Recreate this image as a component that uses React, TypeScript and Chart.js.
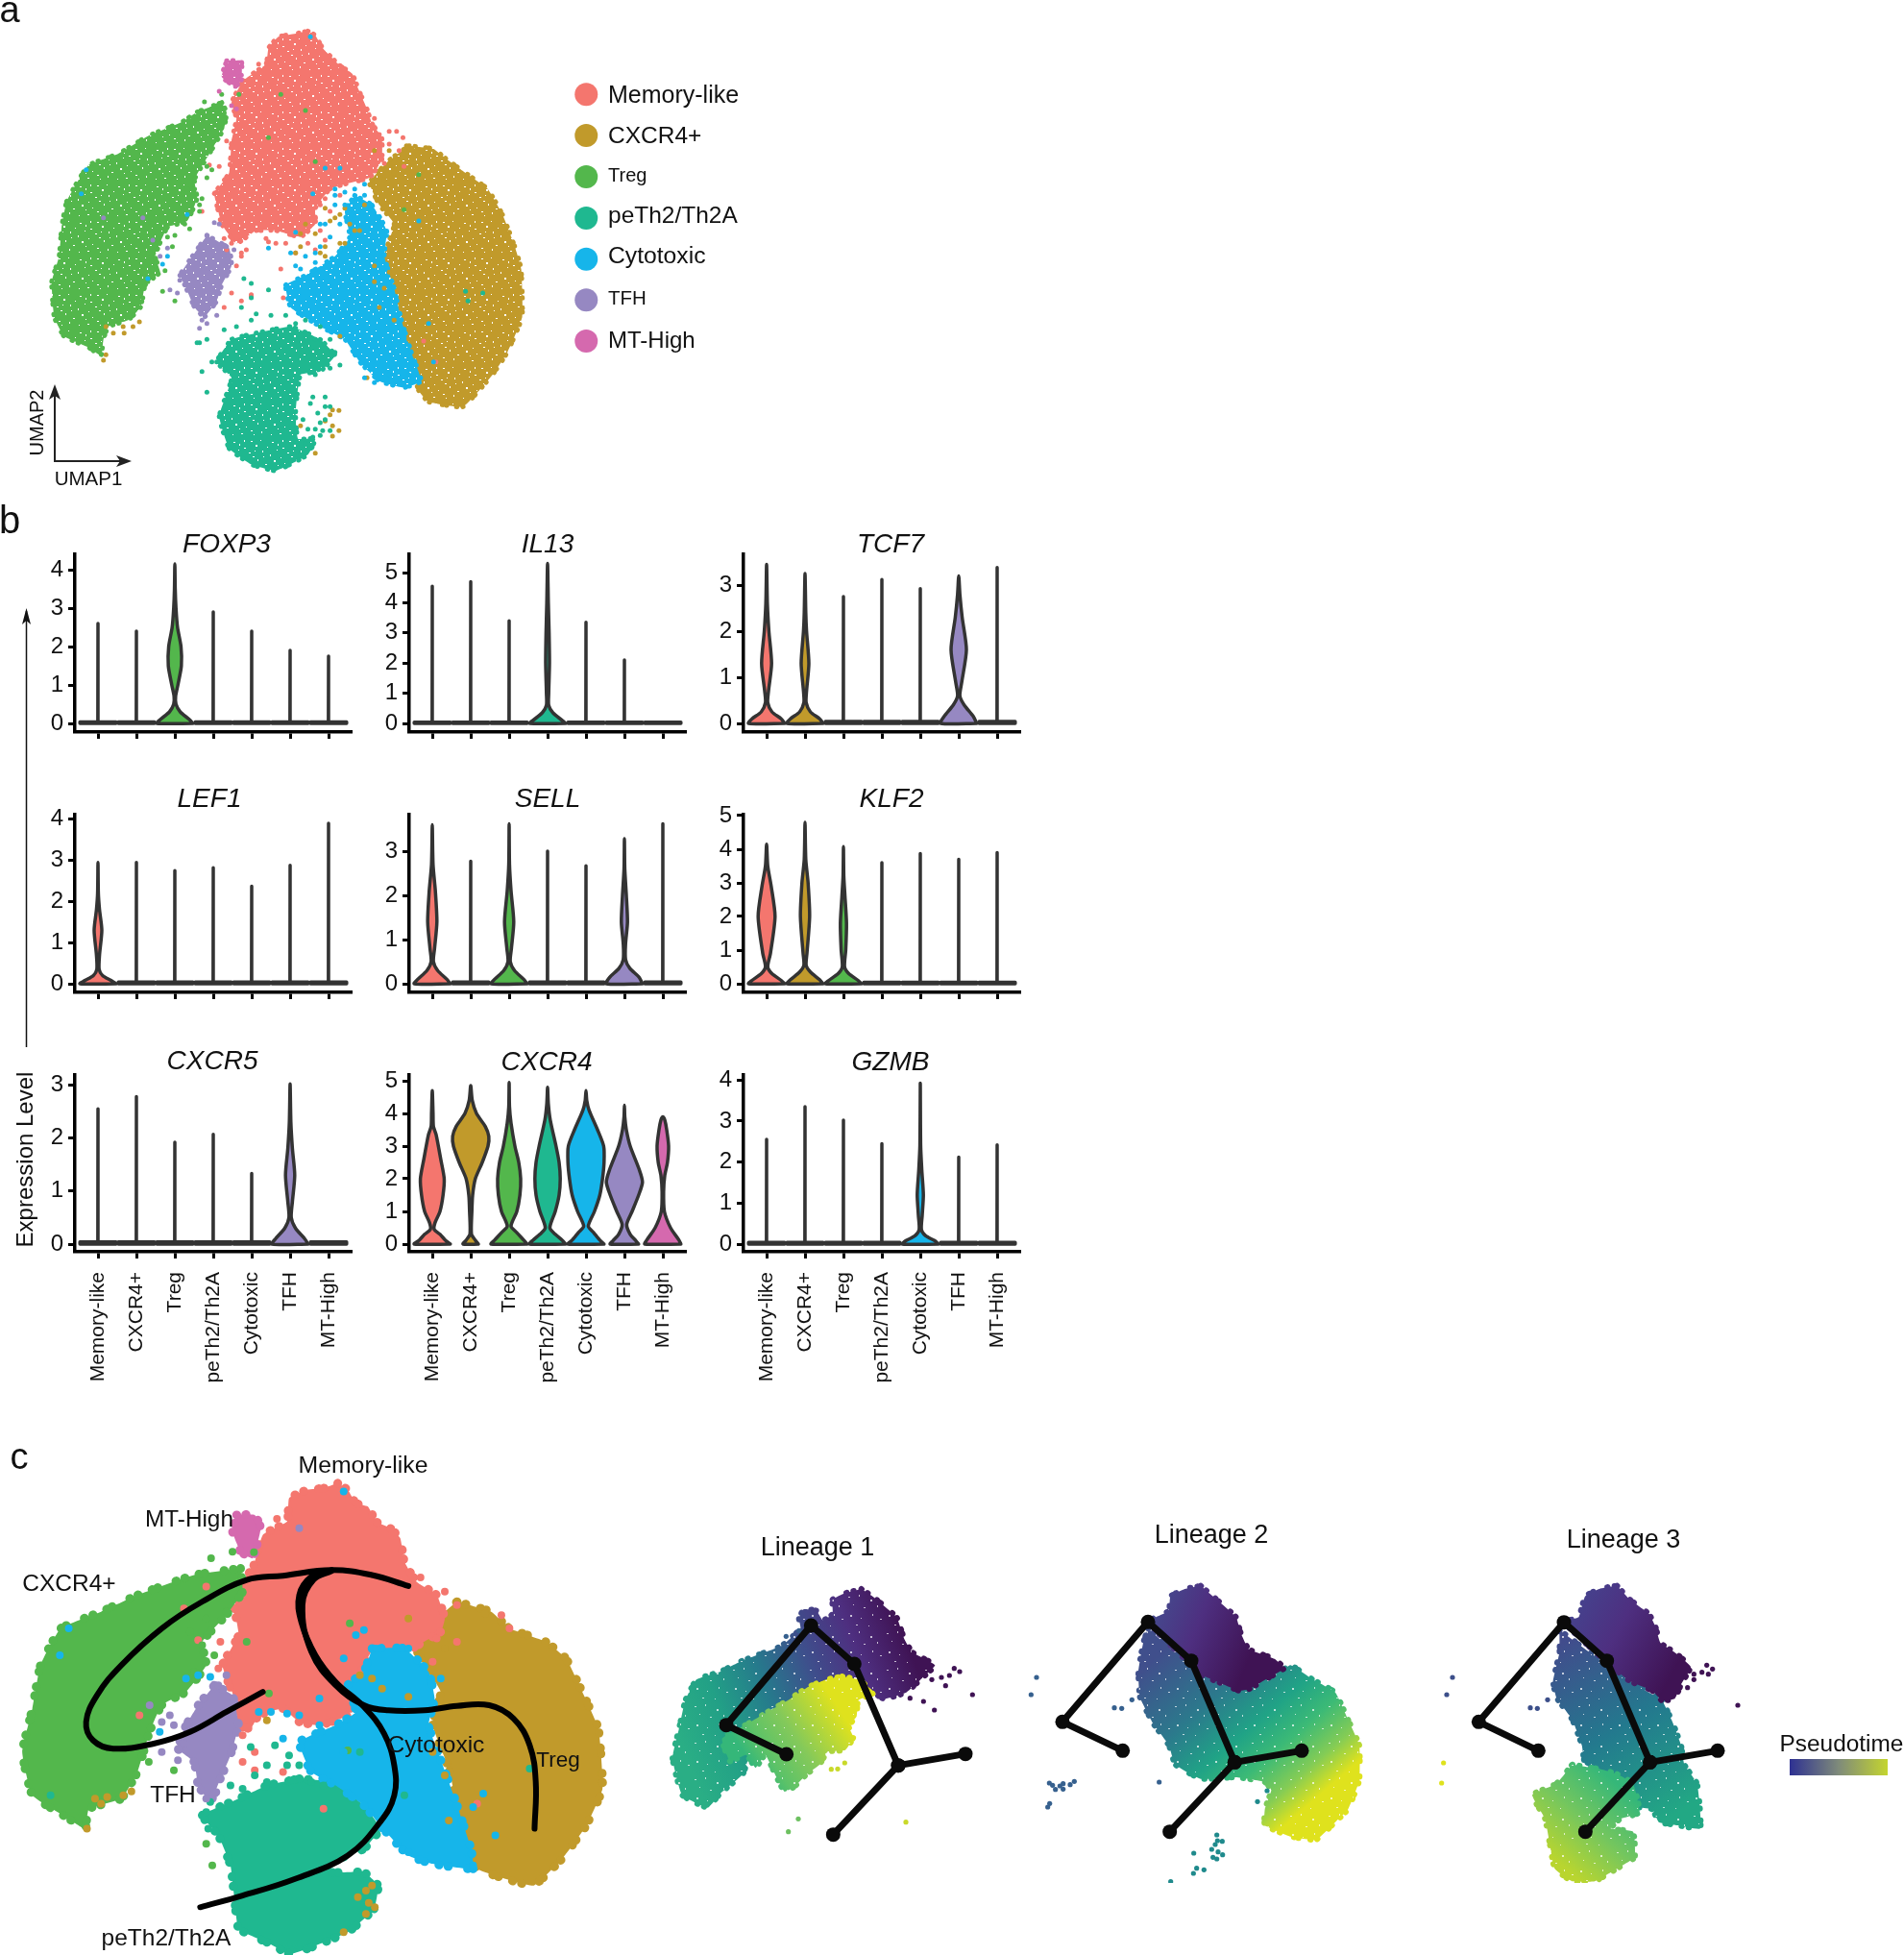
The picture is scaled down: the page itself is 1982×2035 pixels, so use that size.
import React, { useEffect, useRef } from "react";
import Chart from "chart.js/auto";

type P = [number, number];
const FONT = "'Liberation Sans', Arial, sans-serif";

// ---------- categories ----------
const categories = ["Memory-like", "CXCR4+", "Treg", "peTh2/Th2A", "Cytotoxic", "TFH", "MT-High"];
const colors = ["#F4766E", "#C19A2B", "#53B74C", "#1FB890", "#16B5EA", "#9688C2", "#D569AE"];

// ---------- panel a: UMAP cluster outlines and stray cells ----------
const memoryOutline: P[] = [[625,97],[640,110],[655,150],[690,205],[715,230],[728,280],[745,340],[755,385],[775,430],[775,500],[750,555],[700,575],[670,590],[640,650],[640,700],[610,740],[560,720],[520,720],[480,760],[450,700],[440,640],[435,605],[465,540],[470,440],[480,370],[470,320],[495,250],[540,200],[545,150],[565,115],[600,105]];
const goldOutline: P[] = [[830,455],[880,465],[905,495],[945,540],[990,590],[1020,670],[1045,770],[1058,840],[1060,990],[1030,1100],[1000,1170],[940,1270],[870,1255],[850,1220],[830,1120],[820,1020],[800,900],[780,800],[800,700],[770,640],[750,570],[790,500]];
const tregOutline: P[] = [[450,320],[460,350],[455,400],[425,480],[395,560],[400,620],[380,690],[340,710],[315,800],[325,850],[295,890],[285,960],[260,1000],[220,1020],[210,1060],[205,1110],[180,1085],[130,1050],[110,990],[105,880],[120,800],[125,710],[135,630],[160,560],[180,515],[240,480],[300,425],[370,380],[400,350]];
const tealOutline: P[] = [[520,1040],[590,1020],[650,1060],[680,1110],[650,1160],[610,1170],[600,1290],[605,1370],[640,1370],[625,1420],[560,1470],[510,1450],[465,1400],[445,1300],[470,1180],[440,1130],[470,1060]];
const blueOutline: P[] = [[720,610],[755,640],[785,720],[780,800],[800,900],[815,1000],[835,1100],[855,1190],[820,1210],[770,1190],[730,1130],[700,1060],[650,1020],[590,960],[580,890],[620,860],[680,800],[710,740],[700,660]];
const tfhOutline: P[] = [[420,735],[465,775],[470,830],[450,890],[440,940],[415,990],[395,960],[375,890],[365,860],[395,790]];
const mtOutline: P[] = [[460,190],[490,190],[490,250],[478,270],[450,240]];

const memoryStray: P[] = [[790,410],[805,410],[818,430],[460,440],[445,520],[425,515],[440,600],[410,660],[460,780],[490,790],[490,940],[470,915],[510,920],[560,760],[530,720],[545,755],[600,790],[640,680],[570,840],[575,930],[455,960],[510,925],[860,1065],[885,1130],[770,420],[760,370],[690,205],[525,200],[490,800],[480,830],[650,720],[625,760],[640,780],[660,750],[500,780],[470,760],[540,745],[580,760],[455,745],[770,480],[730,540],[790,450],[810,470],[820,520],[780,510],[660,620],[670,660],[690,610],[620,720],[650,640]];
const goldStray: P[] = [[210,1125],[215,1108],[283,1005],[270,1020],[252,1040],[230,1040],[215,1020],[250,1020],[675,1280],[688,1282],[670,1295],[660,1315],[675,1330],[688,1345],[675,1362],[610,1330],[640,1415],[690,670],[660,650],[680,680],[650,790],[610,770],[600,790],[780,900],[790,850],[800,1000],[760,830],[690,1050],[745,1180],[830,1060],[825,455],[870,462],[780,560],[770,600],[720,720],[700,760],[660,800],[760,470],[790,470],[810,500],[775,530],[800,540],[740,640],[700,650],[670,690],[710,700],[730,720],[690,760],[640,730],[620,700],[660,770],[610,730],[760,880],[770,960]];
const blueStray: P[] = [[175,530],[165,605],[630,115],[660,525],[690,525],[545,775],[600,725],[635,605],[380,670],[340,800],[330,825],[300,870],[740,1180],[760,1195],[810,1200],[870,1010],[880,1130],[850,690],[680,590],[700,600],[740,575],[680,640],[690,700],[650,770],[600,830],[640,820],[590,790],[760,1140],[800,1150],[790,1170],[830,1170],[600,900],[700,640],[720,590],[680,610],[710,680],[740,610],[660,700],[650,700],[670,740],[700,780],[640,790],[620,800],[610,840]];
const tregStray: P[] = [[415,318],[430,340],[450,295],[485,295],[440,330],[405,640],[405,660],[385,715],[355,735],[350,770],[335,845],[330,910],[355,940],[410,620],[380,590],[420,555],[430,530],[850,545],[820,655],[570,295],[620,345],[640,505],[545,430],[435,440],[450,400],[415,480],[420,520],[395,590],[370,680],[375,700],[340,740],[315,830],[300,880],[290,930]];
const tealStray: P[] = [[495,870],[510,885],[545,905],[510,930],[490,960],[520,980],[455,1030],[410,1160],[420,1225],[405,1070],[440,1130],[600,1010],[640,1060],[690,1140],[680,1100],[670,1150],[950,940],[945,910],[980,915],[635,1240],[660,1240],[630,1260],[670,1270],[645,1290],[660,1310],[640,1340],[655,1345],[620,1385],[635,1365],[650,1360],[670,1345],[610,1420],[590,1440],[630,1400],[430,1130],[420,1060],[400,1070],[480,1020],[510,1000],[550,985],[580,985],[620,1000],[650,1020],[670,1060],[640,1170],[660,1270],[650,1320],[625,1340],[615,1310]];
const tfhStray: P[] = [[435,695],[445,700],[325,800],[340,775],[345,905],[365,875],[360,915],[410,1000],[405,1025],[420,1010],[440,985],[455,800],[210,680],[290,680],[310,750],[475,780],[460,770],[420,735],[375,850]];
const mtStray: P[] = [[480,340],[470,330],[445,285],[490,235],[478,270]];

// ---------- panel c: the same cells, redrawn larger, with principal curves ----------
const memoryC: P[] = [[835,155],[860,175],[880,215],[910,225],[930,270],[965,290],[990,320],[1000,390],[1030,450],[1080,490],[1100,560],[1090,600],[1020,650],[985,690],[930,640],[900,700],[880,760],[860,850],[790,880],[740,870],[700,830],[640,850],[620,890],[590,880],[580,800],[550,700],[590,610],[580,530],[590,460],[625,410],[650,310],[710,270],[715,200],[760,175],[800,170]];
const goldC: P[] = [[1130,510],[1215,540],[1260,590],[1350,630],[1400,680],[1440,780],[1480,890],[1490,1070],[1450,1180],[1390,1280],[1320,1360],[1250,1340],[1180,1310],[1160,1250],[1135,1150],[1110,1010],[1070,880],[1090,780],[1050,700],[1025,640],[1060,580]];
const blueC: P[] = [[920,650],[1000,650],[1060,720],[1075,800],[1060,880],[1095,1000],[1125,1100],[1165,1250],[1170,1310],[1070,1295],[1010,1270],[940,1180],[900,1120],[830,1060],[770,1020],[740,930],[830,880],[880,840],[860,760],[900,720]];
const tealC: P[] = [[740,1040],[820,1050],[900,1120],[940,1190],[900,1250],[820,1290],[820,1320],[900,1320],[935,1360],[925,1430],[860,1500],[720,1565],[660,1530],[590,1490],[580,1400],[570,1300],[540,1210],[500,1150],[590,1100],[660,1060]];
const tregC: P[] = [[595,410],[600,480],[560,550],[500,630],[510,700],[460,780],[400,820],[370,900],[340,1020],[300,1100],[220,1130],[210,1190],[170,1160],[80,1090],[55,960],[80,830],[100,700],[150,590],[250,540],[340,490],[480,430]];
const tfhC: P[] = [[530,760],[575,790],[590,880],[570,970],[545,1040],[520,1110],[490,1060],[480,990],[440,950],[460,880],[490,820]];
const mtC: P[] = [[585,250],[630,250],[645,290],[625,380],[595,360],[575,300]];

const tregStrayC: P[] = [[522,380],[575,360],[628,362],[510,560],[470,600],[610,630],[865,575],[560,540],[500,640],[530,670],[480,720],[430,1015],[368,990],[665,785],[525,1300],[510,1235],[860,955]];
const goldStrayC: P[] = [[215,1190],[235,1100],[265,1095],[305,1090],[325,1078],[250,1115],[920,1360],[905,1375],[885,1395],[912,1412],[927,1425],[905,1445],[660,865],[1010,560],[920,740],[945,770],[890,730],[1010,795],[1070,960],[1100,1030],[1110,1165],[1100,650],[1150,520],[1200,545],[850,1500]];
const blueStrayC: P[] = [[170,590],[148,670],[850,180],[880,610],[900,595],[850,680],[790,800],[710,845],[740,850],[790,880],[850,960],[640,840],[670,840],[700,920],[930,650],[1010,650],[1090,740],[1195,1085],[1225,1210],[1170,1125],[395,900],[460,740],[490,730],[520,735],[1010,1260],[1170,1300]];
const memoryStrayC: P[] = [[685,262],[1040,437],[1100,480],[1130,520],[1240,550],[1260,590],[1070,690],[1130,630],[1180,1115],[345,850],[510,465],[600,910],[630,960],[600,990],[630,1015],[700,1020],[800,1130],[540,710],[545,630],[490,625],[455,530],[1080,620]];
const tealStrayC: P[] = [[620,945],[680,940],[660,1000],[715,970],[710,1000],[740,1000],[630,1030],[660,1050],[600,1070],[570,1060],[520,1110],[510,1140],[515,1190],[890,960],[125,1090],[1000,1090],[1310,1010],[770,1050],[800,1060]];
const tfhStrayC: P[] = [[740,290],[370,820],[420,850],[400,870],[430,880],[560,730],[540,760],[400,960],[440,985],[455,935],[510,1100],[535,1080]];

const curveOne: P[] = [[650,780],[560,840],[470,900],[380,935],[280,950],[230,925],[213,870],[240,790],[300,700],[400,590],[500,510],[610,445],[700,432],[820,415],[920,430],[1010,463]];
const curveTwo: P[] = [[820,415],[770,435],[740,490],[745,570],[780,670],[830,750],[900,825],[950,905],[975,1000],[975,1090],[940,1170],[860,1270],[730,1340],[600,1390],[495,1425]];
const curveThree: P[] = [[820,418],[775,445],[748,520],[770,660],[830,760],[900,820],[960,835],[1050,835],[1130,822],[1210,820],[1270,860],[1310,940],[1325,1050],[1322,1190]];

// ---------- violin values ----------
const FOXP3_top = [2.6, 2.4, 4.15, 2.9, 2.4, 1.9, 1.75];
const IL13_top = [4.55, 4.7, 3.4, 5.3, 3.35, 2.1, 0];
const TCF7_top = [3.45, 3.25, 2.75, 3.12, 2.92, 3.2, 3.38];
const LEF1_top = [2.95, 2.95, 2.75, 2.82, 2.37, 2.88, 3.9];
const SELL_top = [3.6, 2.77, 3.62, 3.0, 2.67, 3.28, 3.62];
const KLF2_top = [4.15, 4.8, 4.08, 3.6, 3.87, 3.7, 3.9];
const CXCR5_top = [2.55, 2.78, 1.92, 2.07, 1.33, 3.02, 0];
const CXCR4_top = [4.7, 4.85, 4.95, 4.8, 4.7, 4.25, 3.9];
const GZMB_top = [2.55, 3.35, 3.02, 2.45, 3.92, 2.12, 2.42];

// each profile: [expression, half width in category units]
const FOXP3_treg: P[] = [[0,.47],[.1,.38],[.3,.14],[.5,.03],[.7,.02],[1,.08],[1.5,.17],[2,.16],[2.5,.07],[3,.03],[3.5,.01]];
const IL13_teth: P[] = [[0,.47],[.1,.38],[.35,.14],[.6,.03],[1,.03],[2,.05],[3,.04],[4,.02]];
const TCF7_mem: P[] = [[0,.47],[.1,.38],[.25,.14],[.45,.03],[.7,.05],[1.3,.13],[2,.06],[2.6,.02]];
const TCF7_cx: P[] = [[0,.47],[.1,.38],[.25,.14],[.45,.03],[.7,.04],[1.3,.1],[2,.04],[2.4,.02]];
const TCF7_tfh: P[] = [[0,.47],[.15,.38],[.4,.14],[.6,.03],[.9,.08],[1.6,.2],[2.3,.09],[2.8,.03]];
const LEF1_mem: P[] = [[0,.47],[.08,.34],[.2,.12],[.35,.03],[.7,.04],[1.3,.1],[1.8,.04],[2.2,.01]];
const SELL_mem: P[] = [[0,.47],[.1,.38],[.3,.14],[.5,.03],[.8,.06],[1.4,.12],[2.1,.08],[2.7,.02]];
const SELL_treg: P[] = [[0,.47],[.1,.38],[.3,.14],[.5,.03],[.8,.06],[1.4,.12],[2.1,.05],[2.7,.01]];
const SELL_tfh: P[] = [[0,.47],[.15,.38],[.35,.14],[.55,.03],[.9,.03],[1.4,.08],[2,.05],[2.6,.01]];
const KLF2_mem: P[] = [[0,.47],[.1,.38],[.3,.14],[.5,.03],[.9,.1],[2,.22],[2.9,.12],[3.5,.03]];
const KLF2_cx: P[] = [[0,.47],[.12,.38],[.35,.14],[.55,.03],[.9,.05],[2,.12],[3,.08],[3.7,.02]];
const KLF2_treg: P[] = [[0,.47],[.1,.38],[.3,.14],[.5,.03],[1,.06],[1.8,.08],[2.6,.04],[3.2,.01]];
const CXCR5_tfh: P[] = [[0,.47],[.1,.38],[.3,.14],[.5,.03],[.8,.06],[1.3,.12],[1.8,.06],[2.3,.02]];
const GZMB_cyto: P[] = [[0,.47],[.08,.38],[.2,.14],[.35,.03],[.7,.05],[1.2,.08],[1.8,.04],[2.4,.01]];
const CXCR4_mem: P[] = [[0,.47],[.12,.34],[.3,.2],[.45,.05],[.65,.07],[1,.2],[1.5,.28],[2,.31],[2.6,.22],[3.35,.1],[3.6,.03],[4,.02]];
const CXCR4_cx: P[] = [[0,.2],[.12,.12],[.3,.02],[1,.03],[1.5,.05],[2,.12],[2.5,.3],[3,.45],[3.3,.47],[3.6,.38],[4,.15],[4.4,.04]];
const CXCR4_treg: P[] = [[0,.47],[.12,.38],[.35,.2],[.55,.05],[1,.2],[1.5,.28],[2,.3],[2.5,.25],[3,.15],[3.7,.05],[4.2,.01]];
const CXCR4_th2: P[] = [[0,.47],[.12,.38],[.3,.2],[.5,.06],[1,.2],[1.5,.3],[2,.33],[2.5,.3],[3,.22],[3.8,.07],[4.3,.02]];
const CXCR4_cyto: P[] = [[0,.47],[.12,.36],[.35,.2],[.55,.06],[1,.22],[1.5,.36],[2,.43],[2.5,.47],[3,.46],[3.5,.3],[4.1,.08],[4.4,.02]];
const CXCR4_tfh: P[] = [[0,.37],[.1,.3],[.3,.15],[.6,.06],[1,.2],[1.5,.37],[1.9,.47],[2.3,.38],[3,.15],[3.5,.05],[3.9,.01]];
const CXCR4_mt: P[] = [[0,.47],[.12,.42],[.5,.2],[1,.04],[1.6,.02],[2.1,.05],[2.5,.12],[3,.15],[3.5,.1],[3.8,.05]];

// ---------- lineage panels ----------
const viridisA = ["#3F1354", "#4E2F80", "#3E4F8C", "#267A8C", "#22A086", "#2AAE85"];
const L1_upper: P[] = [[650,102],[685,125],[715,150],[760,190],[785,260],[810,300],[880,340],[840,380],[790,425],[720,445],[680,420],[640,380],[560,380],[500,410],[440,445],[380,470],[330,510],[300,560],[300,620],[280,680],[210,740],[170,785],[90,745],[60,630],[80,540],[100,450],[135,385],[210,360],[280,325],[400,280],[460,225],[455,195],[470,165],[510,170],[530,200],[560,180],[560,135],[600,115]];
const L1_lower: P[] = [[590,375],[640,385],[690,425],[640,450],[635,500],[610,530],[625,565],[600,605],[545,610],[520,650],[480,680],[440,720],[410,735],[385,690],[350,620],[320,660],[290,620],[240,640],[215,570],[300,520],[350,490],[420,450],[480,410],[540,385]];
const L2_upper: P[] = [[570,92],[620,135],[680,190],[695,240],[720,290],[800,320],[830,350],[780,380],[720,415],[690,420],[630,395],[570,370],[540,340],[405,205],[470,170],[475,125],[520,102]];
const L2_lower: P[] = [[405,225],[540,345],[620,395],[700,420],[800,375],[850,340],[920,385],[990,425],[1030,510],[1065,590],[1065,700],[1030,790],[990,830],[930,885],[850,875],[770,840],[770,790],[790,730],[770,705],[680,690],[570,695],[490,650],[470,590],[420,520],[380,440],[375,360],[390,270]];
const L3_upper: P[] = [[610,92],[650,135],[710,180],[730,220],[745,270],[790,300],[840,345],[810,400],[790,445],[750,450],[720,420],[650,390],[600,350],[570,325],[444,206],[490,190],[510,125],[560,100]];
const L3_middle: P[] = [[430,230],[578,340],[620,370],[700,420],[750,450],[780,510],[810,590],[820,650],[860,710],[870,850],[800,840],[740,830],[720,790],[660,780],[600,690],[560,670],[510,650],[500,590],[470,510],[420,440],[410,390],[430,300]];
const L3_lower: P[] = [[470,650],[560,665],[610,680],[660,710],[680,800],[620,820],[590,850],[660,860],[665,940],[610,975],[540,1015],[470,1015],[415,975],[400,900],[385,820],[345,745],[420,710]];

const L1_tree_a: P[] = [[416,618],[228,527],[493,216],[628,336],[765,653],[975,617]];
const L1_tree_b: P[] = [[765,653],[562,869]];
const L2_tree_a: P[] = [[326,607],[138,517],[405,205],[540,326],[676,643],[885,607]];
const L2_tree_b: P[] = [[676,643],[473,860]];
const L3_tree_a: P[] = [[364,607],[178,517],[444,206],[578,326],[713,643],[924,607]];
const L3_tree_b: P[] = [[713,643],[511,860]];

const L1_dark: P[] = [[940,350],[957,360],[925,372],[900,378],[870,385],[913,404],[802,443],[844,453],[878,480],[997,432]];
const L1_green: P[] = [[453,820],[422,860]];
const L1_yellow: P[] = [[789,830],[598,645],[576,664],[556,665]];
const L1_blue: P[] = [[415,250],[455,232]];
const L2_blue: P[] = [[57,378],[40,432],[355,448],[300,473],[323,475],[97,708],[107,715],[116,728],[140,727],[130,717],[140,710],[162,713],[175,703],[98,772],[92,783],[440,705]];
const L2_teal: P[] = [[620,870],[622,888],[637,890],[615,900],[604,915],[624,923],[548,927],[638,932],[608,940],[620,945],[557,974],[580,979],[547,990],[476,1016],[747,766],[777,732]];
const L3_blue: P[] = [[96,378],[78,432],[393,448],[339,473],[361,475]];
const L3_yellow: P[] = [[68,645],[62,708]];
const L3_dark: P[] = [[987,465],[890,340],[908,352],[875,362],[850,368],[825,373],[850,385],[830,410],[895,368]];

// gaps in the cell clouds: the white flecks in one repeating tile [x, y, w, h]
const fleckTile: [number, number, number, number][] = [[3,4,2,1],[14,2,1,2],[26,7,2,2],[8,12,1,1],[19,15,2,1],[33,13,1,2],[5,23,2,2],[16,26,1,1],[28,22,1,2],[36,27,2,1],[11,33,2,1],[24,34,1,1]];
const denseFlecks: [number, number, number, number][] = [[9,6,1,2],[21,3,2,1],[31,2,1,1],[14,10,2,1],[25,13,1,1],[38,9,1,1],[1,17,1,2],[12,20,1,1],[23,19,2,1],[34,19,1,1],[9,28,1,1],[21,30,2,1],[32,31,1,2],[2,34,1,1]];

// ---------- helpers ----------
const pts = (a: P[]) => a.map(([x, y]) => ({ x, y }));
function fleckPattern(color: string | null) {
  const c = document.createElement("canvas");
  c.width = 40; c.height = 38;
  const g = c.getContext("2d") as CanvasRenderingContext2D;
  if (color) { g.fillStyle = color; g.fillRect(0, 0, 40, 38); }
  g.fillStyle = color ? "#fff" : "rgba(255,255,255,0.7)";
  (color ? [...fleckTile, ...denseFlecks] : fleckTile).forEach(([x, y, w, h]) => g.fillRect(x, y, w, h));
  return g.createPattern(c, "repeat");
}
const poly = (a: P[], fillColor: any, edge: any, width: number, gap: number) => ({
  data: pts([...a, a[0]]), showLine: true, fill: "shape", backgroundColor: fillColor, borderColor: edge,
  borderWidth: width, borderDash: [0.5, gap, 0.5, gap * 1.7, 0.5, gap * 0.6, 0.5, gap * 2.2], borderCapStyle: "round",
  pointRadius: 0, tension: 0.12, borderJoinStyle: "round",
});
const flecks = (a: P[]) => ({
  data: pts([...a, a[0]]), showLine: true, fill: "shape", backgroundColor: fleckPattern(null), borderWidth: 0, borderColor: "rgba(0,0,0,0)",
  pointRadius: 0, tension: 0.12,
});
const dots = (a: P[], color: string, r: number) => ({
  data: pts(a), showLine: false, pointRadius: r, pointBackgroundColor: color, pointBorderWidth: 0,
});
const gradient = (x0: number, y0: number, x1: number, y1: number, stops: [number, string][]) => (ctx: any) => {
  const chart = ctx.chart;
  if (!chart.chartArea) return stops[0][1];
  const sx = chart.scales.x, sy = chart.scales.y;
  const g = chart.ctx.createLinearGradient(sx.getPixelForValue(x0), sy.getPixelForValue(y0), sx.getPixelForValue(x1), sy.getPixelForValue(y1));
  stops.forEach(([t, c]) => g.addColorStop(t, c));
  return g;
};
const basePlugins = { legend: { display: false }, tooltip: { enabled: false } };
const noPad = { autoPadding: false, padding: 0 };
const hidden = (min: number, max: number, reverse = false) => ({ type: "linear", display: false, min, max, reverse });

const legendDots: P[] = [[1190,295],[1190,423],[1190,552],[1190,681],[1190,809],[1190,937],[1190,1065]];
const clusterA = (a: P[], i: number) => poly(a, fleckPattern(colors[i]), colors[i], 5, 6);

function makePanelA() {
  return {
    type: "scatter",
    data: { datasets: [
      { data: pts(legendDots), showLine: false, pointRadius: 12, pointBackgroundColor: colors, pointBorderWidth: 0 },
      dots(mtStray, colors[6], 2.5), dots(tfhStray, colors[5], 2.5), dots(blueStray, colors[4], 2.5),
      dots(tealStray, colors[3], 2.5), dots(tregStray, colors[2], 2.5), dots(goldStray, colors[1], 2.5),
      dots(memoryStray, colors[0], 2.5),
      clusterA(mtOutline, 6), clusterA(tfhOutline, 5), clusterA(blueOutline, 4), clusterA(tealOutline, 3),
      clusterA(tregOutline, 2), clusterA(memoryOutline, 0), clusterA(goldOutline, 1),
    ] },
    options: { animation: false, responsive: false, layout: noPad, plugins: basePlugins, scales: { x: hidden(0, 1560), y: hidden(0, 1560, true) } },
  };
}

const curveSet = (a: P[]) => ({
  data: pts(a), showLine: true, borderColor: "#000", borderWidth: 6, pointRadius: 0, tension: 0.4, fill: false, borderCapStyle: "round",
});
const clusterC = (a: P[], i: number) => poly(a, colors[i], colors[i], 9, 9);
function makePanelC() {
  return {
    type: "scatter",
    data: { datasets: [
      curveSet(curveOne), curveSet(curveTwo), curveSet(curveThree),
      dots(tfhStrayC, colors[5], 4), dots(blueStrayC, colors[4], 4), dots(tealStrayC, colors[3], 4),
      dots(tregStrayC, colors[2], 4), dots(goldStrayC, colors[1], 4), dots(memoryStrayC, colors[0], 4),
      clusterC(mtC, 6), clusterC(tfhC, 5), clusterC(blueC, 4), clusterC(tealC, 3), clusterC(tregC, 2), clusterC(memoryC, 0), clusterC(goldC, 1),
    ] },
    options: { animation: false, responsive: false, layout: noPad, plugins: basePlugins, scales: { x: hidden(0, 1568), y: hidden(0, 1568, true) } },
  };
}

const tree = (a: P[]) => ({
  data: pts(a), showLine: true, borderColor: "#0A0A0A", borderWidth: 7, pointRadius: 7.5,
  pointBackgroundColor: "#0A0A0A", pointBorderWidth: 0, tension: 0, fill: false,
});
const lineageOptions = { animation: false, responsive: false, layout: noPad, plugins: basePlugins, scales: { x: hidden(0, 1140), y: hidden(0, 1020, true) } };
const darkStops = (): [number, string][] => viridisA.map((c, i) => [i / (viridisA.length - 1), c]);
const graded = (a: P[], g: any) => poly(a, g, g, 6, 7);
function makeLineage1() {
  return { type: "scatter", options: lineageOptions, data: { datasets: [
    tree(L1_tree_a), tree(L1_tree_b),
    dots(L1_dark, "#3F1354", 2.6), dots(L1_green, "#6DC060", 2.6), dots(L1_yellow, "#C9D92A", 2.6), dots(L1_blue, "#36608E", 2.6),
    flecks(L1_lower),
    graded(L1_lower, gradient(640, 420, 300, 640, [[0, "#DFE21D"], [.2, "#DFE21D"], [.6, "#84C95A"], [.85, "#5CC268"], [1, "#35B779"]])),
    flecks(L1_upper),
    graded(L1_upper, gradient(820, 340, 100, 620, darkStops())),
  ] } };
}
function makeLineage2() {
  return { type: "scatter", options: lineageOptions, data: { datasets: [
    tree(L2_tree_a), tree(L2_tree_b),
    dots(L2_blue, "#36608E", 2.6), dots(L2_teal, "#1F8A8C", 2.6),
    graded(L2_upper, gradient(720, 320, 430, 200, [[0, "#3F1354"], [.6, "#4E2F80"], [1, "#46468C"]])),
    flecks(L2_lower),
    graded(L2_lower, gradient(450, 300, 920, 840, [[0, "#404F8C"], [.3, "#2B7A8C"], [.5, "#20A386"], [.65, "#3CBA76"], [.8, "#84CC55"], [.92, "#DFE21D"], [1, "#DFE21D"]])),
  ] } };
}
function makeLineage3() {
  return { type: "scatter", options: lineageOptions, data: { datasets: [
    tree(L3_tree_a), tree(L3_tree_b),
    dots(L3_blue, "#3C4F8A", 2.6), dots(L3_yellow, "#DFE21D", 2.6), dots(L3_dark, "#3F1354", 2.6),
    graded(L3_upper, gradient(780, 370, 470, 200, [[0, "#3F1354"], [.6, "#4E2F80"], [1, "#46408C"]])),
    flecks(L3_lower),
    graded(L3_lower, gradient(620, 720, 420, 950, [[0, "#35B779"], [.5, "#74C65E"], [1, "#B9D52F"]])),
    flecks(L3_middle),
    graded(L3_middle, gradient(470, 250, 800, 800, [[0, "#414C8C"], [.5, "#23798E"], [1, "#22A884"]])),
  ] } };
}

// ---------- violins ----------
function violinOutline(center: number, top: number, profile?: P[]) {
  const prof: P[] = profile ?? [[0, .47], [.04, .47], [.04, .004]];
  const right = prof.map(([y, w]) => ({ x: center + w, y }));
  const left = [...prof].reverse().map(([y, w]) => ({ x: center - w, y }));
  const peak = top > 0 ? [{ x: center, y: top }] : [];
  return [...right, ...peak, ...left, right[0]];
}
const zeroPad = (ax: any) => { ax.paddingTop = 0; ax.paddingBottom = 0; ax.paddingLeft = 0; ax.paddingRight = 0; };
function violinChart(tops: number[], profiles: Record<number, P[]>, ticks: number[], yMin: number, yMax: number, withLabels: boolean, axisH: number) {
  return {
    type: "scatter",
    data: { datasets: tops.map((top, i) => ({
      data: violinOutline(i + 1, top, profiles[i]), showLine: true, fill: "shape", backgroundColor: colors[i],
      borderColor: "#333333", borderWidth: 3.5, pointRadius: 0, tension: profiles[i] ? 0.25 : 0,
      borderJoinStyle: "round", borderCapStyle: "round", clip: false,
    })) },
    options: {
      animation: false, responsive: false, plugins: basePlugins,
      layout: { autoPadding: false, padding: { top: 15, right: 10, left: 0, bottom: 0 } },
      scales: {
        x: {
          type: "linear", min: 0.4, max: 7.6,
          afterBuildTicks: (ax: any) => { ax.ticks = categories.map((_, i) => ({ value: i + 1 })); },
          afterFit: (ax: any) => { ax.height = axisH; zeroPad(ax); },
          grid: { drawOnChartArea: false, drawTicks: true, tickLength: 7, tickWidth: 3, tickColor: "#000" },
          border: { display: true, color: "#000", width: 3.5 },
          ticks: {
            autoSkip: false, maxRotation: 90, minRotation: 90, padding: 14, color: "#111",
            font: { family: FONT, size: 21 },
            callback: (v: number) => (withLabels ? categories[v - 1] : ""),
          },
        },
        y: {
          type: "linear", min: yMin, max: yMax,
          afterBuildTicks: (ax: any) => { ax.ticks = ticks.map((value) => ({ value })); },
          afterFit: (ax: any) => { ax.width = 50; zeroPad(ax); },
          grid: { drawOnChartArea: false, drawTicks: true, tickLength: 7, tickWidth: 3, tickColor: "#000" },
          border: { display: true, color: "#000", width: 3.5 },
          ticks: { padding: 5, color: "#111", font: { family: FONT, size: 24 } },
        },
      },
    },
  };
}

const columnX = [78, 426, 774];
const rows = [
  { top: 577, bottom: 762, zero: 753, axisH: 20, labels: false },
  { top: 848, bottom: 1033, zero: 1024, axisH: 20, labels: false },
  { top: 1119, bottom: 1303, zero: 1295, axisH: 160, labels: true },
];
const genes = [
  { name: "FOXP3", col: 0, row: 0, tops: FOXP3_top, prof: { 2: FOXP3_treg }, ticks: [0,1,2,3,4], ppu: 40, tx: 236, ty: 566 },
  { name: "IL13", col: 1, row: 0, tops: IL13_top, prof: { 3: IL13_teth }, ticks: [0,1,2,3,4,5], ppu: 31.4, tx: 570, ty: 566 },
  { name: "TCF7", col: 2, row: 0, tops: TCF7_top, prof: { 0: TCF7_mem, 1: TCF7_cx, 5: TCF7_tfh }, ticks: [0,1,2,3], ppu: 48, tx: 927, ty: 566 },
  { name: "LEF1", col: 0, row: 1, tops: LEF1_top, prof: { 0: LEF1_mem }, ticks: [0,1,2,3,4], ppu: 42.8, tx: 218, ty: 831 },
  { name: "SELL", col: 1, row: 1, tops: SELL_top, prof: { 0: SELL_mem, 2: SELL_treg, 5: SELL_tfh }, ticks: [0,1,2,3], ppu: 46, tx: 570, ty: 831 },
  { name: "KLF2", col: 2, row: 1, tops: KLF2_top, prof: { 0: KLF2_mem, 1: KLF2_cx, 2: KLF2_treg }, ticks: [0,1,2,3,4,5], ppu: 35, tx: 928, ty: 831 },
  { name: "CXCR5", col: 0, row: 2, tops: CXCR5_top, prof: { 5: CXCR5_tfh }, ticks: [0,1,2,3], ppu: 55.2, tx: 221, ty: 1104 },
  { name: "CXCR4", col: 1, row: 2, tops: CXCR4_top, prof: { 0: CXCR4_mem, 1: CXCR4_cx, 2: CXCR4_treg, 3: CXCR4_th2, 4: CXCR4_cyto, 5: CXCR4_tfh, 6: CXCR4_mt }, ticks: [0,1,2,3,4,5], ppu: 34, tx: 569, ty: 1105 },
  { name: "GZMB", col: 2, row: 2, tops: GZMB_top, prof: { 4: GZMB_cyto }, ticks: [0,1,2,3,4], ppu: 42.7, tx: 927, ty: 1105 },
];

// ---------- page text ----------
const legendText: [string, number, number, number][] = [
  ["Memory-like", 633, 98, 25], ["CXCR4+", 633, 141, 24.5], ["Treg", 633, 182, 20], ["peTh2/Th2A", 633, 224, 24.5],
  ["Cytotoxic", 633, 266, 24.7], ["TFH", 633, 310, 20.5], ["MT-High", 633, 354, 24],
];
const centerText: [string, number, number, number][] = [
  ["a", 10, 10, 38], ["b", 10, 541, 40], ["c", 20, 1516, 38],
  ["UMAP1", 92, 498, 20.5], ["Memory-like", 378, 1525, 24.8], ["MT-High", 197, 1581, 24.3],
  ["CXCR4+", 72, 1648, 24.5], ["TFH", 180, 1868, 24.5], ["Cytotoxic", 454, 1816, 24.5], ["Treg", 581, 1832, 22.5],
  ["peTh2/Th2A", 173, 2017, 24.5], ["Lineage 1", 851, 1610, 27], ["Lineage 2", 1261, 1597, 27], ["Lineage 3", 1690, 1602, 27],
  ["Pseudotime", 1917, 1815, 24.4],
];

function Canvas({ left, top, w, h, config }: any) {
  const ref = useRef<HTMLCanvasElement>(null);
  useEffect(() => {
    const chart = new Chart(ref.current as any, config());
    return () => chart.destroy();
  }, []);
  return <canvas ref={ref} width={w} height={h} style={{ position: "absolute", left, top, width: w, height: h }} />;
}
const textStyle = (x: number, y: number, size: number, transform: string, extra: any = {}): any => ({
  position: "absolute", left: x, top: y, fontSize: size, fontFamily: FONT, lineHeight: 1, whiteSpace: "nowrap",
  color: "#111", transform, ...extra,
});

export default function App() {
  return (
    <div style={{ position: "absolute", left: 0, top: 0, width: 1982, height: 2035, overflow: "hidden", background: "#fff" }}>
      <Canvas left={0} top={0} w={800} h={520} config={makePanelA} />
      <Canvas left={0} top={1490} w={660} h={545} config={makePanelC} />
      <Canvas left={680} top={1620} w={380} h={340} config={makeLineage1} />
      <Canvas left={1060} top={1620} w={380} h={340} config={makeLineage2} />
      <Canvas left={1480} top={1620} w={380} h={340} config={makeLineage3} />
      {genes.map((g) => {
        const r = rows[g.row];
        const plotH = r.bottom - r.top;
        const yMin = -(r.bottom - r.zero) / g.ppu;
        const yMax = (r.zero - r.top) / g.ppu;
        return (
          <Canvas key={g.name} left={columnX[g.col] - 50} top={r.top - 15} w={348} h={plotH + 15 + r.axisH}
            config={() => violinChart(g.tops, g.prof as any, g.ticks, yMin, yMax, r.labels, r.axisH)} />
        );
      })}
      <svg width={1982} height={2035} style={{ position: "absolute", left: 0, top: 0, pointerEvents: "none" }}>
        <path d="M57 403 V480 H134" fill="none" stroke="#222" strokeWidth={2} />
        <path d="M57 400 L51 416 L57 412 L63 416 Z M137 480 L121 474 L125 480 L121 486 Z" fill="#222" />
        <path d="M27.5 1090 V636" fill="none" stroke="#111" strokeWidth={1.5} />
        <path d="M27.5 633 L23 650 L27.5 646 L32 650 Z" fill="#111" />
      </svg>
      {legendText.map(([t, x, y, s]) => (
        <div key={t + "l"} style={textStyle(x, y, s, "translateY(-50%)")}>{t}</div>
      ))}
      {centerText.map(([t, x, y, s]) => (
        <div key={t + x} style={textStyle(x, y, s, "translate(-50%,-50%)")}>{t}</div>
      ))}
      <div style={textStyle(38, 440, 20, "translate(-50%,-50%) rotate(-90deg)")}>UMAP2</div>
      <div style={textStyle(26, 1207, 24, "translate(-50%,-50%) rotate(-90deg)")}>Expression Level</div>
      {genes.map((g) => (
        <div key={g.name + "t"} style={textStyle(g.tx, g.ty, 28, "translate(-50%,-50%)", { fontStyle: "italic" })}>{g.name}</div>
      ))}
      <div style={{ position: "absolute", left: 1863, top: 1831, width: 102, height: 17, background: "linear-gradient(90deg,#2E3192,#7F8B7A 50%,#C4D52F)" }} />
    </div>
  );
}
